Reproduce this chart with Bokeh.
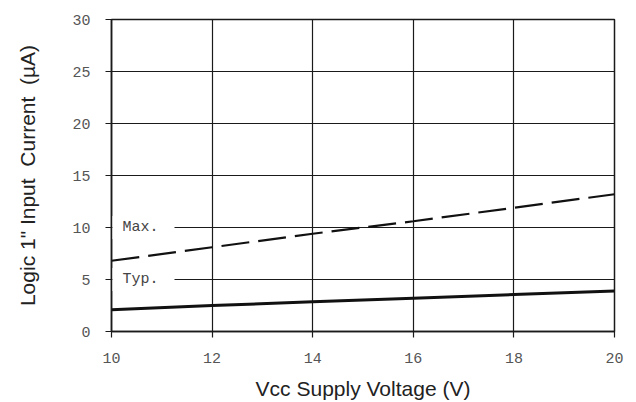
from bokeh.plotting import figure
from bokeh.models import Range1d, FixedTicker, Label
from bokeh.embed import file_html
from bokeh.resources import INLINE

# Data
vcc = [10, 12, 14, 16, 18, 20]
i_typ = [2.1, 2.5, 2.85, 3.2, 3.55, 3.9]
i_max = [6.8, 8.1, 9.4, 10.6, 11.9, 13.2]
x_ticks = [10, 12, 14, 16, 18, 20]
y_ticks = [0, 5, 10, 15, 20, 25, 30]

p = figure(width=636, height=402, output_backend="svg", toolbar_location=None,
           x_range=Range1d(10, 20), y_range=Range1d(0, 30),
           min_border_left=111, min_border_right=22, min_border_top=19, min_border_bottom=71)
p.background_fill_color = "white"
p.border_fill_color = "white"
p.outline_line_color = "#1a1a1a"
p.outline_line_width = 1.5

p.xaxis.ticker = FixedTicker(ticks=x_ticks)
p.yaxis.ticker = FixedTicker(ticks=y_ticks)

for ax in (p.xaxis[0], p.yaxis[0]):
    ax.axis_line_color = "#1a1a1a"
    ax.axis_line_width = 1.5
    ax.major_tick_line_color = "#1a1a1a"
    ax.major_tick_line_width = 1.2
    ax.major_tick_out = 6
    ax.major_tick_in = 0
    ax.minor_tick_line_color = None
    ax.major_label_text_font = "Liberation Mono"
    ax.major_label_text_font_size = "15px"
    ax.major_label_text_color = "#555555"
    ax.axis_label_text_font = "Liberation Sans"
    ax.axis_label_text_font_style = "normal"
    ax.axis_label_text_font_size = "21px"
    ax.axis_label_text_color = "#222222"

p.xaxis.axis_label = "Vcc Supply Voltage (V)"
p.yaxis.axis_label = 'Logic 1" Input\u00a0 Current\u00a0 (\u00b5A)'
p.xaxis.major_label_standoff = 15
p.yaxis.major_label_standoff = 15
p.xaxis.axis_label_standoff = 11
p.yaxis.axis_label_standoff = 30

for g in (p.xgrid[0], p.ygrid[0]):
    g.grid_line_color = "#1a1a1a"
    g.grid_line_width = 1.2
    g.grid_line_alpha = 1.0

p.line(vcc, i_max, line_color="#111111", line_width=2.2, line_dash="28 9")
p.line(vcc, i_typ, line_color="#111111", line_width=3)

pad = dict(left=10, right=16, top=3, bottom=3)
for txt, yv in (("Max.", 10), ("Typ.", 5)):
    p.add_layout(Label(x=10, y=yv, x_offset=1, text=txt, text_baseline="middle",
                       text_font="Liberation Mono", text_font_size="15px",
                       text_color="#444444", background_fill_color="white",
                       padding=pad))

open("out.html", "w").write(file_html(p, INLINE))
